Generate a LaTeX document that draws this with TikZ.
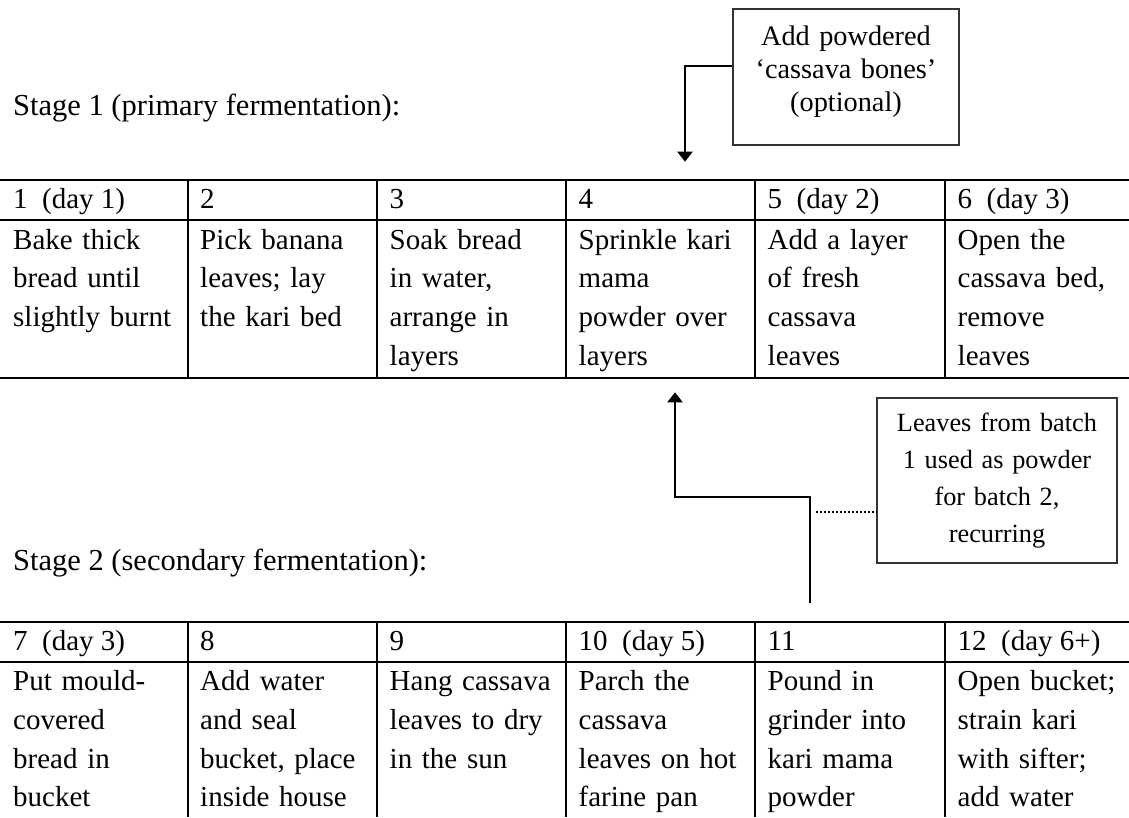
\documentclass[tikz,border=0pt]{standalone}
\usepackage{fontspec}
\setmainfont{Liberation Serif}
\usetikzlibrary{arrows.meta}
\begin{document}
\begin{tikzpicture}[x=1pt,y=-1pt,
  tline/.style={line width=2pt},
  cell/.style={anchor=base west, inner sep=0pt, text width=180pt, align=left, font=\fontsize{29}{38.7}\selectfont},
  hcell/.style={anchor=base west, inner sep=0pt, font=\fontsize{29}{34.8}\selectfont},
  stage/.style={anchor=base west, inner sep=0pt, font=\fontsize{30.5}{36}\selectfont},
  note/.style={draw=black!80, line width=1.3pt, inner sep=0pt, align=center, anchor=base},
  conn/.style={line width=2.3pt, -{Triangle[width=15pt,length=10pt]}},
  dotline/.style={line width=2pt, dash pattern=on 1.8pt off 2.2pt},
]
\useasboundingbox (0,0) rectangle (1129,817);

% stage labels
\node[stage] (s1) at (13,115) {Stage 1 (primary fermentation):};
\node[stage] (s2) at (13,570) {Stage 2 (secondary fermentation):};

% table 1 rules
\draw[tline] (0,180) -- (1129,180);
\draw[tline] (0,220) -- (1129,220);
\draw[tline] (0,377.7) -- (1129,377.7);
\foreach \x in {187.5,377,566,755,945} \draw[tline] (\x,180) -- (\x,377.7);

% table 2 rules
\draw[tline] (0,621.7) -- (1129,621.7);
\draw[tline] (0,661.7) -- (1129,661.7);
\foreach \x in {187.5,377,566,755,945} \draw[tline] (\x,621.7) -- (\x,817);

% table 1 headers
\node[hcell] (h1) at (13,208.3) {1~~(day 1)};
\node[hcell] (h2) at (200,208.3) {2};
\node[hcell] (h3) at (389.5,208.3) {3};
\node[hcell] (h4) at (578.5,208.3) {4};
\node[hcell] (h5) at (767.5,208.3) {5~~(day 2)};
\node[hcell] (h6) at (957.5,208.3) {6~~(day 3)};
% table 1 bodies
\node[cell] (c1) at (13,249) {Bake thick\\bread until\\slightly burnt};
\node[cell] (c2) at (200,249) {Pick banana\\leaves; lay\\the kari bed};
\node[cell] (c3) at (389.5,249) {Soak bread\\in water,\\arrange in\\layers};
\node[cell] (c4) at (578.5,249) {Sprinkle kari\\mama\\powder over\\layers};
\node[cell] (c5) at (767.5,249) {Add a layer\\of fresh\\cassava\\leaves};
\node[cell] (c6) at (957.5,249) {Open the\\cassava bed,\\remove\\leaves};

% table 2 headers
\node[hcell] (h7) at (13,650) {7~~(day 3)};
\node[hcell] (h8) at (200,650) {8};
\node[hcell] (h9) at (389.5,650) {9};
\node[hcell] (h10) at (578.5,650) {10~~(day 5)};
\node[hcell] (h11) at (767.5,650) {11};
\node[hcell] (h12) at (957.5,650) {12~~(day 6+)};
% table 2 bodies
\node[cell] (c7) at (13,690.7) {Put mould-\\covered\\bread in\\bucket};
\node[cell] (c8) at (200,690.7) {Add water\\and seal\\bucket, place\\inside house};
\node[cell] (c9) at (389.5,690.7) {Hang cassava\\leaves to dry\\in the sun};
\node[cell] (c10) at (578.5,690.7) {Parch the\\cassava\\leaves on hot\\farine pan};
\node[cell] (c11) at (767.5,690.7) {Pound in\\grinder into\\kari mama\\powder};
\node[cell] (c12) at (957.5,690.7) {Open bucket;\\strain kari\\with sifter;\\add water};

% note boxes
\node[note, text width=226pt, text height=36pt, text depth=100pt,
      font=\fontsize{28.3}{33}\selectfont] (b1) at (846,45)
  {Add powdered\\‘cassava bones’\\(optional)};
\node[note, text width=240pt, text height=33pt, text depth=132pt,
      font=\fontsize{26.3}{37}\selectfont] (b2) at (997,431)
  {Leaves from batch\\1 used as powder\\for batch 2,\\recurring};

% connectors
\coordinate (t1) at (685,161.7);
\draw[conn] ([yshift=11pt]b1.west) -| (t1);

\coordinate (st2) at (810,602.7);
\coordinate (m2) at (675,496.7);
\coordinate (t2) at (675,392.3);
\draw[conn] (st2) |- (m2) -- (t2);

\coordinate (d1) at (816,511.7);
\draw[dotline] (d1) -- (d1 -| b2.west);
\end{tikzpicture}
\end{document}
